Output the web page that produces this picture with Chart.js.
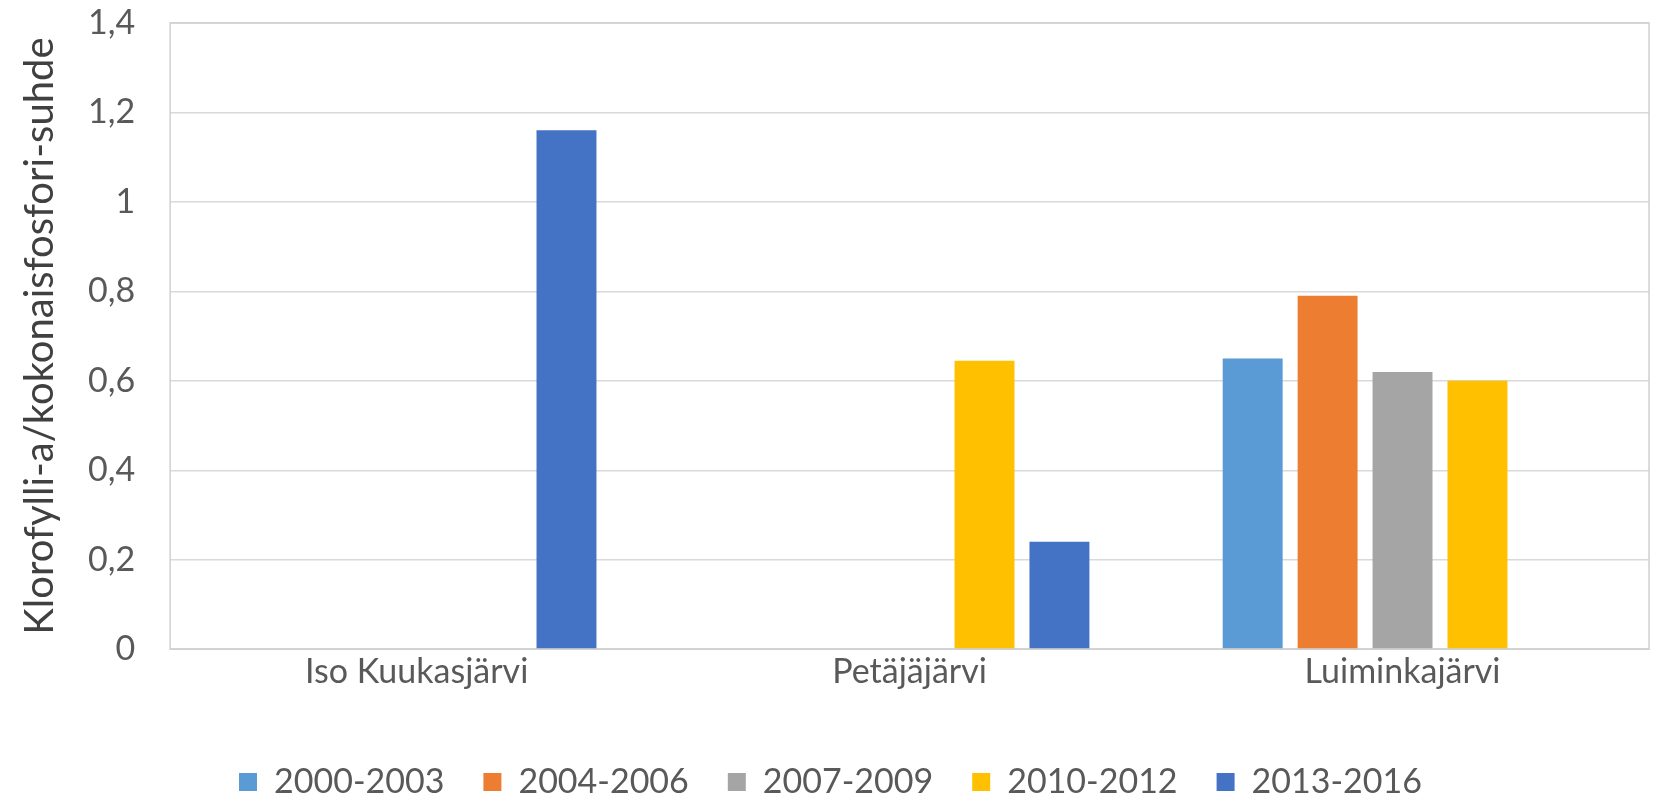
<!DOCTYPE html>
<html>
<head>
<meta charset="utf-8">
<script src="https://cdn.jsdelivr.net/npm/chart.js@4.4.4/dist/chart.umd.min.js"></script>
<style>
  html, body { margin: 0; padding: 0; background: #fff; }
  #wrap { width: 1653px; height: 798px; }
</style>
</head>
<body>
<div id="wrap"><canvas id="chart"></canvas></div>
<script>
const lakes = ['Iso Kuukasjärvi', 'Petäjäjärvi', 'Luiminkajärvi'];
const periods = ['2000-2003', '2004-2006', '2007-2009', '2010-2012', '2013-2016'];
const colors = ['#5B9BD5', '#ED7D31', '#A5A5A5', '#FFC000', '#4472C4'];

// ratio per period, one value per lake (null = no bar)
const p2000 = [null, null, 0.65];
const p2004 = [null, null, 0.79];
const p2007 = [null, null, 0.62];
const p2010 = [null, 0.645, 0.60];
const p2013 = [1.16, 0.24, null];
const seriesValues = [p2000, p2004, p2007, p2010, p2013];

const yTicks = [0, 0.2, 0.4, 0.6, 0.8, 1, 1.2, 1.4];
const yTitle = 'Klorofylli-a/kokonaisfosfori-suhde';

const fontFamily = 'Lato, "Open Sans", sans-serif';
const textGrey = '#595959';
const yTickPad = 35;

const frame = {
    id: 'frame',
    afterDatasetsDraw(chart) {
        const { ctx, chartArea } = chart;
        ctx.save();
        ctx.strokeStyle = '#d0d0d0';
        ctx.lineWidth = 1.5;
        ctx.strokeRect(chartArea.left, chartArea.top, chartArea.right - chartArea.left, chartArea.bottom - chartArea.top);
        ctx.restore();
    }
};

const datasets = periods.map((p, i) => ({
    label: p,
    data: seriesValues[i],
    backgroundColor: colors[i],
    borderWidth: 0,
    categoryPercentage: 0.76,
    barPercentage: 0.8
}));

new Chart(document.getElementById('chart'), {
    type: 'bar',
    data: { labels: lakes, datasets },
    options: {
        responsive: true,
        maintainAspectRatio: false,
        animation: false,
        layout: { padding: { top: 23, right: 4, left: 12, bottom: -11 } },
        plugins: {
            legend: {
                position: 'bottom',
                labels: {
                    font: { family: fontFamily, size: 34 },
                    color: textGrey,
                    boxWidth: 18,
                    boxHeight: 18,
                    padding: 39
                }
            },
            tooltip: { enabled: false }
        },
        scales: {
            x: {
                grid: { display: false, drawTicks: false },
                border: { color: '#d0d0d0' },
                ticks: {
                    font: { family: fontFamily, size: 34 },
                    color: textGrey,
                    padding: 2
                },
                afterFit(axis) {
                    axis.height += 32;
                }
            },
            y: {
                min: 0,
                max: 1.4,
                afterBuildTicks(axis) {
                    axis.ticks = yTicks.map(v => ({ value: v }));
                },
                afterFit(axis) {
                    // tick padding is counted twice in width and added to top/bottom padding
                    axis.width -= yTickPad;
                    axis.paddingTop -= yTickPad;
                    axis.paddingBottom -= yTickPad;
                },
                grid: { color: '#d9d9d9', lineWidth: 1.5, drawTicks: false },
                border: { display: false },
                ticks: {
                    font: { family: fontFamily, size: 34 },
                    color: textGrey,
                    padding: yTickPad,
                    callback: v => String(Math.round(v * 10) / 10).replace('.', ',')
                },
                title: {
                    display: true,
                    text: yTitle,
                    font: { family: fontFamily, size: 40 },
                    color: '#404040',
                    padding: { top: 4, bottom: 24 }
                }
            }
        }
    },
    plugins: [frame]
});
</script>
</body>
</html>
